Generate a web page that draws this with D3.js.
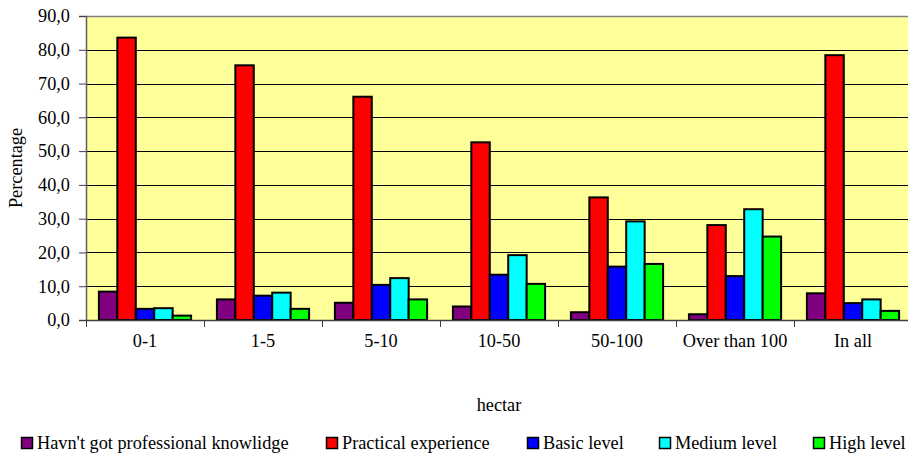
<!DOCTYPE html>
<html>
<head>
<meta charset="utf-8">
<script src="https://cdn.jsdelivr.net/npm/d3@7"></script>
<style>
  html, body { margin: 0; padding: 0; background: #fff; }
  svg { display: block; }
  text { font-family: "Liberation Serif", "Times New Roman", serif; fill: #000; }
</style>
</head>
<body>
<svg id="chart" width="908" height="454"></svg>
<script>
// Farm size groups (hectares)
const categories = ["0-1", "1-5", "5-10", "10-50", "50-100", "Over than 100", "In all"];

// Level of professional knowledge, share of respondents (%)
const seriesNames = [
  "Havn't got professional knowlidge",
  "Practical experience",
  "Basic level",
  "Medium level",
  "High level"
];
const noKnowledge   = [8.4, 6.1, 5.1, 4.0, 2.3, 1.7, 7.9];
const practical     = [83.6, 75.4, 66.1, 52.6, 36.3, 28.1, 78.4];
const basicLevel    = [3.3, 7.2, 10.4, 13.4, 15.8, 13.0, 5.0];
const mediumLevel   = [3.5, 8.1, 12.4, 19.2, 29.2, 32.8, 6.1];
const highLevel     = [1.3, 3.3, 6.1, 10.7, 16.6, 24.7, 2.7];

const yTicks = [0, 10, 20, 30, 40, 50, 60, 70, 80, 90];
const colors = ["#800080", "#FF0000", "#0000FF", "#00FFFF", "#00FF00"];

const seriesValues = [noKnowledge, practical, basicLevel, mediumLevel, highLevel];

const svg = d3.select("#chart");
const plot = { left: 86, top: 16, right: 912, bottom: 320 };

const x0 = d3.scaleBand().domain(categories).range([plot.left, plot.right]).padding(0);
const x1 = d3.scaleBand().domain(d3.range(seriesNames.length))
  .range([0, x0.bandwidth()]).paddingInner(0).paddingOuter(0.7);
const y = d3.scaleLinear().domain([0, 90]).range([plot.bottom, plot.top]);

// plot background
svg.append("rect")
  .attr("x", plot.left).attr("y", plot.top)
  .attr("width", plot.right - plot.left).attr("height", plot.bottom - plot.top)
  .attr("fill", "#FFFF99");

// horizontal gridlines
svg.append("g").selectAll("line")
  .data(yTicks.filter(t => t > 0 && t < 90))
  .join("line")
  .attr("x1", plot.left).attr("x2", plot.right)
  .attr("y1", d => Math.round(y(d)) + 0.5).attr("y2", d => Math.round(y(d)) + 0.5)
  .attr("stroke", "#000").attr("stroke-width", 1);

// plot border top
svg.append("line")
  .attr("x1", plot.left).attr("x2", plot.right)
  .attr("y1", plot.top + 0.5).attr("y2", plot.top + 0.5)
  .attr("stroke", "#808080").attr("stroke-width", 1.5);

// bars
const groups = svg.append("g").selectAll("g")
  .data(categories)
  .join("g")
  .attr("transform", d => `translate(${x0(d)},0)`);

groups.selectAll("rect")
  .data((c, ci) => seriesValues.map((vals, si) => ({ si, v: vals[ci] })))
  .join("rect")
  .attr("x", d => x1(d.si))
  .attr("y", d => y(d.v))
  .attr("width", x1.bandwidth())
  .attr("height", d => y(0) - y(d.v))
  .attr("fill", d => colors[d.si])
  .attr("stroke", "#000")
  .attr("stroke-width", 2);

// y axis
const yAxis = d3.axisLeft(y)
  .tickValues(yTicks)
  .tickFormat(d => d3.format(".1f")(d).replace(".", ","))
  .tickSize(7)
  .tickPadding(9);
const gy = svg.append("g")
  .attr("transform", `translate(${plot.left},0)`)
  .call(yAxis);
gy.select(".domain").attr("stroke", "#606060").attr("stroke-width", 1.5);
gy.selectAll(".tick line").attr("stroke", "#404040");
gy.selectAll(".tick text")
  .style("font-family", "'Liberation Serif', 'Times New Roman', serif")
  .style("font-size", "18.3px")
  .attr("fill", "#000");

// x axis
const xAxis = d3.axisBottom(x0).tickSize(0).tickPadding(14);
const gx = svg.append("g")
  .attr("transform", `translate(0,${plot.bottom})`)
  .call(xAxis);
gx.select(".domain").attr("stroke", "#404040").attr("stroke-width", 1.5);
gx.selectAll(".tick text")
  .style("font-family", "'Liberation Serif', 'Times New Roman', serif")
  .style("font-size", "18.3px")
  .attr("fill", "#000");

// category separators on the x axis
svg.append("g").selectAll("line")
  .data(categories)
  .join("line")
  .attr("x1", d => Math.round(x0(d)) + 0.5).attr("x2", d => Math.round(x0(d)) + 0.5)
  .attr("y1", plot.bottom).attr("y2", plot.bottom + 7)
  .attr("stroke", "#404040").attr("stroke-width", 1);

// axis titles
svg.append("text")
  .attr("transform", `translate(22,${(plot.top + plot.bottom) / 2}) rotate(-90)`)
  .attr("text-anchor", "middle")
  .style("font-size", "18.3px")
  .text("Percentage");

svg.append("text")
  .attr("x", (plot.left + plot.right) / 2)
  .attr("y", 411)
  .attr("text-anchor", "middle")
  .style("font-size", "18.3px")
  .text("hectar");

// legend
const legendX = [21, 326, 527, 659, 813];
const legend = svg.append("g").selectAll("g")
  .data(seriesNames)
  .join("g")
  .attr("transform", (d, i) => `translate(${legendX[i]},437)`);
legend.append("rect")
  .attr("x", 0.5).attr("y", 0.5)
  .attr("width", 11).attr("height", 11)
  .attr("fill", (d, i) => colors[i])
  .attr("stroke", "#000").attr("stroke-width", 1.5);
legend.append("text")
  .attr("x", 16).attr("y", 12)
  .style("font-size", "18.3px")
  .text(d => d);
</script>
</body>
</html>
